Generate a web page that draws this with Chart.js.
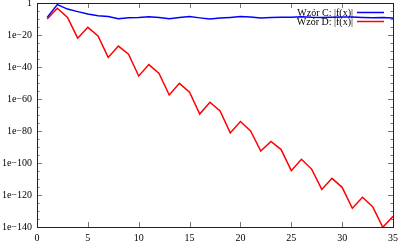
<!DOCTYPE html>
<html>
<head>
<meta charset="utf-8">
<script src="https://cdn.jsdelivr.net/npm/chart.js@4"></script>
<style>
  html, body { margin: 0; padding: 0; background: #fff; }
  #wrap { width: 400px; height: 241px; }
</style>
</head>
<body>
<div id="wrap"><canvas id="chart"></canvas></div>
<script>
  // x values and log10 of |f(x)|
  const xs = [1, 2, 3, 4, 5, 6, 7, 8, 9, 10, 11, 12, 13, 14, 15, 16, 17, 18, 19, 20,
              21, 22, 23, 24, 25, 26, 27, 28, 29, 30, 31, 32, 33, 34, 35];
  const logC = [-9, -1, -3.8, -5.4, -6.9, -7.9, -8.5, -9.9, -9.2, -9, -8.6, -9, -9.9, -9.1, -8.5,
                -9.3, -10, -9.4, -9, -8.5, -8.8, -9.3, -9.1, -8.9, -8.9, -8.6, -8.9, -9, -8.9, -8.8,
                -8.7, -9, -9.2, -9, -9.4];
  const logD = [-10, -3.3, -9, -22, -15.2, -20.6, -34, -26.9, -32, -45.6, -38.5, -44, -57.5, -50.2, -55.8,
                -69.4, -62, -67.5, -81.2, -74.1, -80, -92.5, -86.5, -91.6, -104.8, -97.7, -103.8, -116.5, -109.6, -115.2,
                -128.3, -121.4, -127.3, -140.2, -133.3];
  const labelC = 'Wzór C: |f(x)|';
  const labelD = 'Wzór D: |f(x)|';

  const xTicks = [0, 5, 10, 15, 20, 25, 30, 35];
  // exponents of the y ticks, labelled every 20
  const yTicks = [0, -5, -10, -15, -20, -25, -30, -35, -40, -45, -50, -55, -60, -65, -70,
                  -75, -80, -85, -90, -95, -100, -105, -110, -115, -120, -125, -130, -135, -140];

  const tickFont = { family: 'Liberation Serif', size: 10 };

  // gnuplot style frame: inward ticks on all four sides, plus the key in the corner
  const framePlugin = {
    id: 'frame',
    afterDatasetsDraw(chart) {
      const { ctx, chartArea: a, scales: { x, y } } = chart;
      ctx.save();
      ctx.strokeStyle = '#777';
      ctx.lineWidth = 1;
      ctx.beginPath();
      yTicks.forEach(e => {
        const py = Math.round(y.getPixelForValue(Math.pow(10, e))) + 0.5;
        const len = e % 20 === 0 ? 5 : 2.5;
        ctx.moveTo(a.left, py); ctx.lineTo(a.left + len, py);
        ctx.moveTo(a.right, py); ctx.lineTo(a.right - len, py);
      });
      xTicks.forEach(v => {
        const px = Math.round(x.getPixelForValue(v)) + 0.5;
        ctx.moveTo(px, a.bottom); ctx.lineTo(px, a.bottom - 5);
        ctx.moveTo(px, a.top); ctx.lineTo(px, a.top + 5);
      });
      ctx.stroke();

      ctx.strokeStyle = '#222';
      ctx.strokeRect(Math.round(a.left) + 0.5, Math.round(a.top) + 0.5,
                     Math.round(a.right - a.left), Math.round(a.bottom - a.top));

      // key
      ctx.font = '10px "Liberation Serif"';
      ctx.textAlign = 'right';
      ctx.textBaseline = 'middle';
      ctx.fillStyle = '#000';
      chart.data.datasets.forEach((ds, i) => {
        const ky = a.top + 10 + i * 9;
        ctx.fillText(ds.label, a.right - 40, ky);
        ctx.strokeStyle = ds.borderColor;
        ctx.lineWidth = 1.5;
        ctx.beginPath();
        ctx.moveTo(a.right - 36, ky - 0.5);
        ctx.lineTo(a.right - 9, ky - 0.5);
        ctx.stroke();
      });
      ctx.restore();
    }
  };

  var ctx = document.getElementById('chart').getContext('2d');
  new Chart(ctx, {
    type: 'line',
    data: {
      datasets: [{
        label: labelC,
        data: xs.map((x, i) => ({ x: x, y: Math.pow(10, logC[i]) })),
        borderColor: '#0000ff',
        borderWidth: 1.5,
        pointRadius: 0,
        fill: false
      }, {
        label: labelD,
        data: xs.map((x, i) => ({ x: x, y: Math.pow(10, logD[i]) })),
        borderColor: '#ff0000',
        borderWidth: 1.5,
        pointRadius: 0,
        fill: false
      }]
    },
    options: {
      responsive: true,
      maintainAspectRatio: false,
      animation: false,
      layout: { padding: { top: 3, right: 7, left: 0, bottom: 0 } },
      plugins: {
        legend: { display: false },
        tooltip: { enabled: false }
      },
      scales: {
        x: {
          type: 'linear',
          min: 0,
          max: 35,
          grid: { display: false, drawTicks: false },
          border: { display: false },
          afterBuildTicks: s => { s.ticks = xTicks.map(v => ({ value: v })); },
          afterFit: s => { s.height = 14; s.paddingLeft = 0; s.paddingRight = 0; },
          ticks: { font: tickFont, color: '#000', padding: 5, maxRotation: 0, autoSkip: false }
        },
        y: {
          type: 'logarithmic',
          min: 1e-140,
          max: 1,
          grid: { display: false, drawTicks: false },
          border: { display: false },
          afterBuildTicks: s => { s.ticks = yTicks.map(e => ({ value: Math.pow(10, e) })); },
          afterFit: s => { s.width = 37; s.paddingTop = 0; s.paddingBottom = 0; },
          ticks: {
            font: tickFont,
            color: '#000',
            padding: 5,
            autoSkip: false,
            callback: v => {
              const e = Math.round(Math.log10(v));
              if (e === 0) return '1';
              return e % 20 === 0 ? '1e\u2212' + (-e) : '';
            }
          }
        }
      }
    },
    plugins: [framePlugin]
  });
</script>
</body>
</html>
